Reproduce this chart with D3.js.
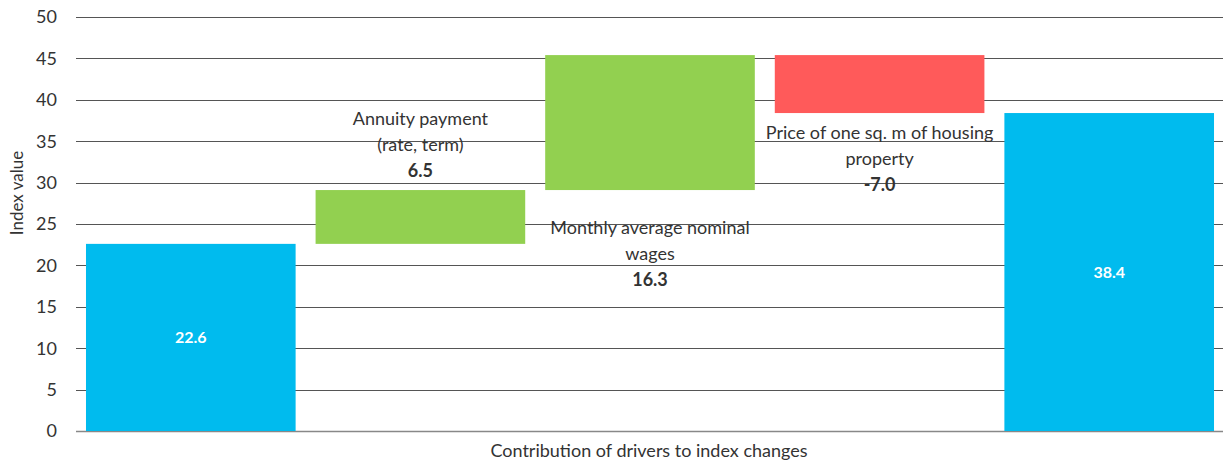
<!DOCTYPE html>
<html lang="en">
<head>
<meta charset="UTF-8">
<script src="https://d3js.org/d3.v7.min.js"></script>
<title>Index drivers</title>
<style>
    body { margin: 0; background: #fff; }
    svg text { font-family: Lato, "Noto Sans", sans-serif; fill: #333; }
</style>
</head>
<body>
<svg id="chart" width="1223" height="464"></svg>
<script>
    // waterfall steps: totals at both ends, drivers in between
    const categories = ["start", "annuity", "wages", "price", "end"];
    const labelLines = [
        [],
        ["Annuity payment", "(rate, term)"],
        ["Monthly average nominal", "wages"],
        ["Price of one sq. m of housing", "property"],
        []
    ];
    const values = [22.6, 6.5, 16.3, -7.0, 38.4];
    const isTotal = [true, false, false, false, true];
    const yTicks = [0, 5, 10, 15, 20, 25, 30, 35, 40, 45, 50];

    const svg = d3.select("#chart");
    const margin = { top: 17, right: -1, bottom: 33, left: 76 };
    const W = 1223, H = 464;

    const x = d3.scaleBand()
        .domain(categories)
        .range([margin.left, W - margin.right])
        .paddingInner(0.087)
        .paddingOuter(0.0435);

    const y = d3.scaleLinear()
        .domain([0, 50])
        .range([H - margin.bottom, margin.top]);

    // running totals
    let run = 0;
    const bars = categories.map((c, i) => {
        let lo, hi;
        if (isTotal[i]) { lo = 0; hi = values[i]; run = values[i]; }
        else { lo = run; hi = run + values[i]; run = hi; }
        return { c, i, v: values[i], y0: Math.min(lo, hi), y1: Math.max(lo, hi), total: isTotal[i] };
    });

    const color = d => d.total ? "#00bbee" : (d.v >= 0 ? "#92d050" : "#ff5a5a");

    // gridlines
    svg.append("g")
        .selectAll("line")
        .data(yTicks)
        .join("line")
        .attr("x1", margin.left)
        .attr("x2", W)
        .attr("y1", d => Math.round(y(d)) + 0.5)
        .attr("y2", d => Math.round(y(d)) + 0.5)
        .attr("stroke", d => d === 0 ? "#888" : "#555")
        .attr("stroke-width", d => d === 0 ? 1.5 : 1);

    svg.append("g")
        .selectAll("text")
        .data(yTicks)
        .join("text")
        .attr("x", 57)
        .attr("y", d => y(d))
        .attr("dy", "0.35em")
        .attr("text-anchor", "end")
        .style("font-size", "18px")
        .text(d => d);

    // bars
    svg.append("g")
        .selectAll("rect")
        .data(bars)
        .join("rect")
        .attr("x", d => x(d.c))
        .attr("width", x.bandwidth())
        .attr("y", d => y(d.y1))
        .attr("height", d => y(d.y0) - y(d.y1))
        .attr("fill", color);

    // values inside total bars
    svg.append("g")
        .selectAll("text")
        .data(bars.filter(d => d.total))
        .join("text")
        .attr("x", d => x(d.c) + x.bandwidth() / 2)
        .attr("y", d => (y(d.y0) + y(d.y1)) / 2)
        .attr("dy", "0.35em")
        .attr("text-anchor", "middle")
        .style("font-size", "16px")
        .style("font-weight", "bold")
        .style("fill", "#fff")
        .text(d => d.v.toFixed(1));

    // driver labels: name lines and bold value
    const lineH = 26;
    bars.filter(d => !d.total).forEach(d => {
        const cx = x(d.c) + x.bandwidth() / 2;
        const lines = labelLines[d.i];
        let firstY;
        if (d.i === 1) firstY = y(d.y1) - 71;      // above the bar
        else if (d.i === 2) firstY = y(d.y0) + 38; // below the bar
        else firstY = y(d.y0) + 20;
        const g = svg.append("g");
        lines.forEach((t, k) => {
            g.append("text")
                .attr("x", cx)
                .attr("y", firstY + k * lineH)
                .attr("dy", "0.35em")
                .attr("text-anchor", "middle")
                .style("font-size", "18px")
                .text(t);
        });
        g.append("text")
            .attr("x", cx)
            .attr("y", firstY + lines.length * lineH)
            .attr("dy", "0.35em")
            .attr("text-anchor", "middle")
            .style("font-size", "18px")
            .style("font-weight", "bold")
            .text(d.v.toFixed(1));
    });

    // axis titles
    svg.append("text")
        .attr("transform", "translate(17,193) rotate(-90)")
        .attr("dy", "0.35em")
        .attr("text-anchor", "middle")
        .style("font-size", "17px")
        .text("Index value");

    svg.append("text")
        .attr("x", 649)
        .attr("y", 451)
        .attr("dy", "0.35em")
        .attr("text-anchor", "middle")
        .style("font-size", "18px")
        .text("Contribution of drivers to index changes");
</script>
</body>
</html>
